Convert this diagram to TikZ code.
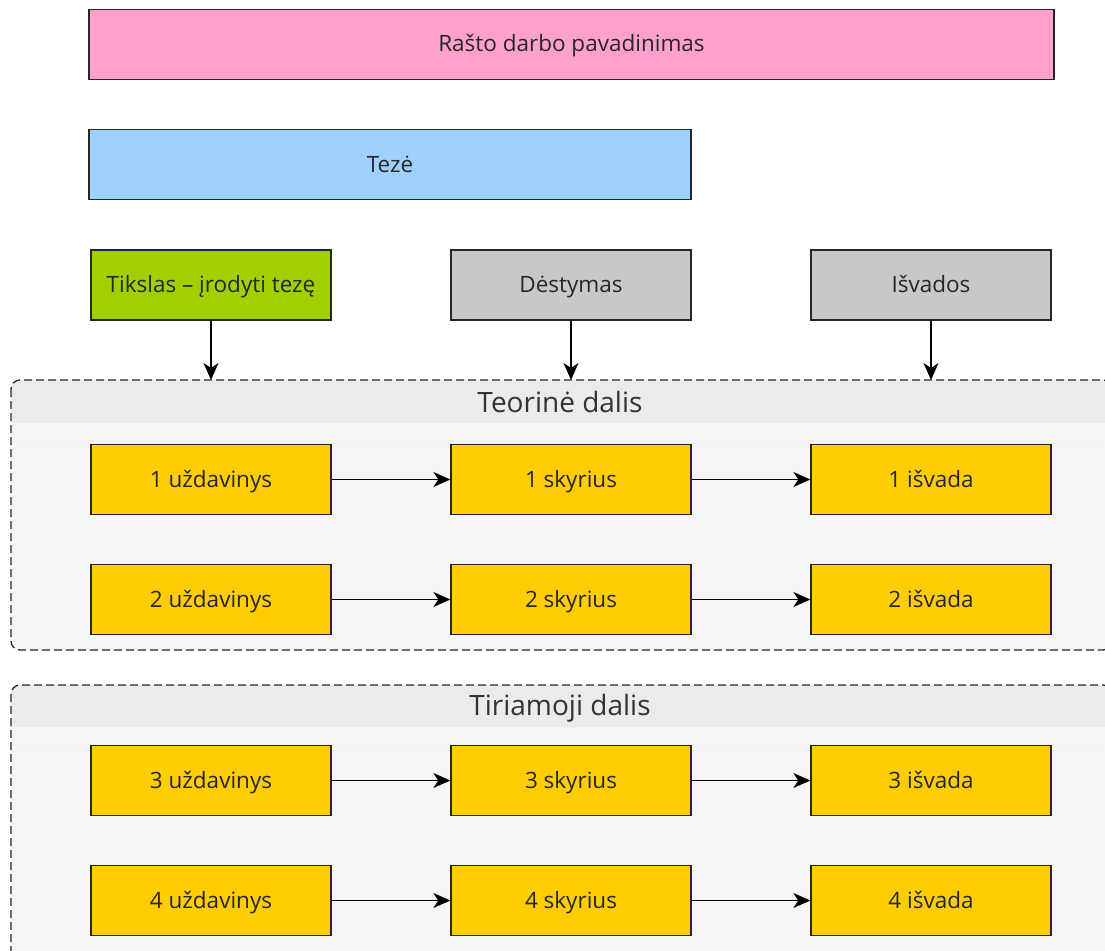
\documentclass[tikz,border=0pt]{standalone}
\usepackage{fontspec}
\setmainfont{Open Sans}
\usetikzlibrary{arrows.meta}
\definecolor{pinkc}{RGB}{255,160,205}
\definecolor{bluec}{RGB}{160,208,255}
\definecolor{greenc}{RGB}{160,208,0}
\definecolor{grayc}{RGB}{200,200,200}
\definecolor{yellowc}{RGB}{255,205,0}
\definecolor{bodyc}{RGB}{245,245,245}
\definecolor{headc}{RGB}{235,235,235}
\definecolor{titlec}{RGB}{51,51,51}
\tikzset{
  box/.style={draw=black!85, line width=1.4pt, minimum width=240pt, minimum height=70pt, inner sep=0pt, font=\fontsize{22.5}{26}\selectfont, text=black!85, text height=18pt, text depth=3pt},
  taskbox/.style={box, fill=yellowc},
  conn/.style={draw=black, line width=1.5pt, -{Stealth[length=17pt,width=15pt,inset=5pt]}},
  container/.style={draw=black!85, line width=1.3pt, dash pattern=on 8pt off 4pt, rounded corners=9pt},
  ctitle/.style={font=\fontsize{28}{32}\selectfont, text=titlec, inner sep=0pt, text height=22pt, text depth=2pt},
}
\begin{document}
\begin{tikzpicture}[x=1pt,y=-1pt]
\useasboundingbox (0,0) rectangle (1105,950);
\clip (0,0) rectangle (1105,950);
% top boxes
\node[box, fill=pinkc, minimum width=965pt] (title) at (571.5,44.5) {Rašto darbo pavadinimas};
\node[box, fill=bluec, minimum width=602pt] (teze) at (390,164.5) {Tezė};
\node[box, fill=greenc] (tikslas) at (211,285) {Tikslas – įrodyti tezę};
\node[box, fill=grayc] (destymas) at (571,285) {Dėstymas};
\node[box, fill=grayc] (isvados) at (931,285) {Išvados};
% container 1
\fill[bodyc, rounded corners=9pt] (11,380) rectangle (1112,650);
\fill[headc, rounded corners=9pt] (11,380) rectangle (1112,440);
\fill[bodyc] (11,423) rectangle (1112,440);
\draw[container] (11,380) rectangle (1112,650);
\coordinate (c1top) at (560,380);
\node[ctitle] (t1) at (560,402) {Teorinė dalis};
% container 2
\fill[bodyc, rounded corners=9pt] (11,685) rectangle (1112,960);
\fill[headc, rounded corners=9pt] (11,685) rectangle (1112,745);
\fill[bodyc] (11,727) rectangle (1112,745);
\draw[container] (11,685) rectangle (1112,960);
\node[ctitle] (t2) at (560,705) {Tiriamoji dalis};
% arrows into container 1
\draw[conn] (tikslas.south) -- (tikslas.south |- c1top);
\draw[conn] (destymas.south) -- (destymas.south |- c1top);
\draw[conn] (isvados.south) -- (isvados.south |- c1top);
% rows
\foreach \i/\y in {1/479.5, 2/599.5, 3/780.5, 4/900.5}{
  \node[taskbox] (u\i) at (211,\y) {\i{} uždavinys};
  \node[taskbox] (s\i) at (571,\y) {\i{} skyrius};
  \node[taskbox] (v\i) at (931,\y) {\i{} išvada};
  \draw[conn] (u\i) -- (s\i);
  \draw[conn] (s\i) -- (v\i);
}
\end{tikzpicture}
\end{document}
